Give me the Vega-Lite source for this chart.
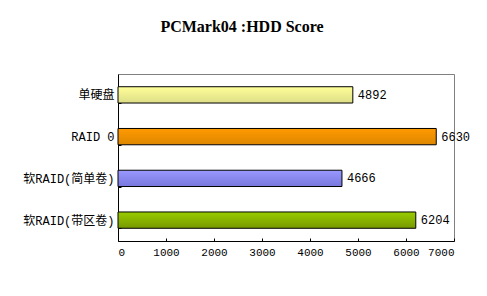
{
  "$schema": "https://vega.github.io/schema/vega-lite/v6.json",
  "width": 336,
  "height": 167,
  "autosize": "none",
  "padding": {"left": 118, "top": 74, "right": 33, "bottom": 55},
  "background": "white",
  "title": {
    "text": "PCMark04 :HDD Score",
    "font": "Liberation Serif",
    "fontSize": 16,
    "fontWeight": "bold",
    "color": "black",
    "anchor": "middle",
    "dx": -44,
    "offset": 33
  },
  "config": {
    "view": {"stroke": "#808080", "strokeWidth": 1}
  },
  "data": {
    "values": [
      {"config": "单硬盘", "score": 4892},
      {"config": "RAID 0", "score": 6630},
      {"config": "软RAID(简单卷)", "score": 4666},
      {"config": "软RAID(带区卷)", "score": 6204}
    ]
  },
  "encoding": {
    "y": {
      "field": "config",
      "type": "nominal",
      "scale": {
        "domain": ["单硬盘", "RAID 0", "软RAID(简单卷)", "软RAID(带区卷)"],
        "paddingInner": 0.61,
        "paddingOuter": 0.305
      },
      "axis": {
        "title": null,
        "domainColor": "black",
        "tickColor": "black",
        "tickSize": -3,
        "tickBand": "extent",
        "labelFont": "Liberation Mono, Noto Sans CJK SC",
        "labelFontSize": 12,
        "labelColor": "black",
        "labelPadding": 7
      }
    },
    "x": {
      "field": "score",
      "type": "quantitative",
      "scale": {"domain": [0, 7000], "nice": false},
      "axis": {
        "title": null,
        "values": [0, 1000, 2000, 3000, 4000, 5000, 6000, 7000],
        "format": "d",
        "grid": false,
        "domainColor": "black",
        "tickColor": "black",
        "tickSize": -3,
        "labelFont": "Liberation Mono",
        "labelFontSize": 11,
        "labelColor": "black",
        "labelPadding": 8
      }
    }
  },
  "layer": [
    {
      "transform": [{"filter": "datum.config === '单硬盘'"}],
      "mark": {"type": "bar", "stroke": "black", "strokeWidth": 1,
        "color": {"gradient": "linear", "x1": 0, "y1": 0, "x2": 0, "y2": 1,
          "stops": [{"offset": 0, "color": "#FFFF99"}, {"offset": 1, "color": "#DDDD88"}]}}
    },
    {
      "transform": [{"filter": "datum.config === 'RAID 0'"}],
      "mark": {"type": "bar", "stroke": "black", "strokeWidth": 1,
        "color": {"gradient": "linear", "x1": 0, "y1": 0, "x2": 0, "y2": 1,
          "stops": [{"offset": 0, "color": "#FF9900"}, {"offset": 1, "color": "#DD8800"}]}}
    },
    {
      "transform": [{"filter": "datum.config === '软RAID(简单卷)'"}],
      "mark": {"type": "bar", "stroke": "black", "strokeWidth": 1,
        "color": {"gradient": "linear", "x1": 0, "y1": 0, "x2": 0, "y2": 1,
          "stops": [{"offset": 0, "color": "#9999FF"}, {"offset": 1, "color": "#7777DD"}]}}
    },
    {
      "transform": [{"filter": "datum.config === '软RAID(带区卷)'"}],
      "mark": {"type": "bar", "stroke": "black", "strokeWidth": 1,
        "color": {"gradient": "linear", "x1": 0, "y1": 0, "x2": 0, "y2": 1,
          "stops": [{"offset": 0, "color": "#99CC00"}, {"offset": 1, "color": "#779900"}]}}
    },
    {
      "mark": {"type": "text", "align": "left", "baseline": "middle", "dx": 5,
        "font": "Liberation Mono", "fontSize": 12, "color": "black"},
      "encoding": {"text": {"field": "score", "type": "quantitative", "format": "d"}}
    }
  ]
}
